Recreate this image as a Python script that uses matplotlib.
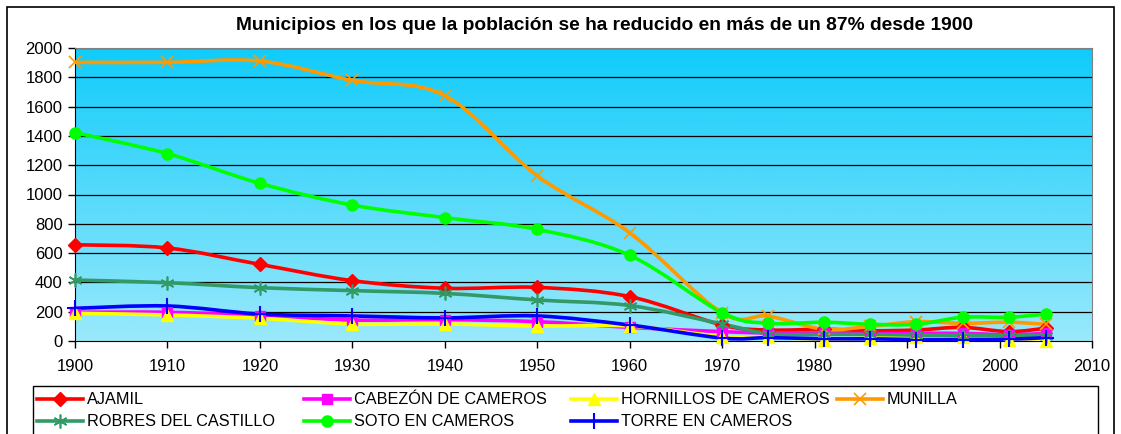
import matplotlib.pyplot as plt
import numpy as np
from matplotlib.path import Path
from matplotlib.patches import PathPatch, Rectangle
from matplotlib.lines import Line2D

plt.rcParams['font.family'] = ['Liberation Sans', 'DejaVu Sans']

years = [1900, 1910, 1920, 1930, 1940, 1950, 1960, 1970, 1975, 1981, 1986, 1991, 1996, 2001, 2005]

ajamil = [657, 635, 523, 412, 360, 366, 303, 109, 75, 80, 70, 75, 93, 64, 87]
cabezon = [196, 196, 173, 143, 146, 132, 93, 64, 55, 55, 50, 52, 52, 43, 52]
hornillos = [189, 178, 155, 116, 116, 102, 102, 30, 25, 10, 20, 30, 30, 10, 2]
munilla = [1902, 1902, 1911, 1779, 1675, 1128, 739, 190, 170, 80, 100, 132, 121, 128, 114]
robres = [416, 398, 364, 344, 325, 280, 242, 116, 50, 45, 45, 40, 37, 37, 37]
soto = [1422, 1279, 1076, 928, 842, 762, 585, 193, 121, 128, 114, 114, 162, 162, 184]
torre = [223, 239, 184, 171, 158, 171, 109, 20, 23, 15, 15, 10, 10, 12, 23]

names = ["AJAMIL", "CABEZÓN DE CAMEROS", "HORNILLOS DE CAMEROS", "MUNILLA",
         "ROBRES DEL CASTILLO", "SOTO EN CAMEROS", "TORRE EN CAMEROS"]
series = [ajamil, cabezon, hornillos, munilla, robres, soto, torre]

styles = [
    dict(color="#FF0000", marker="D", ms=7),
    dict(color="#FF00FF", marker="s", ms=7),
    dict(color="#FFFF00", marker="^", ms=8),
    dict(color="#FF9900", marker="x", ms=9, mew=1.2),
    dict(color="#339966", marker=(6, 2, 0), ms=10, mew=1.2),
    dict(color="#00FF00", marker="o", ms=8),
    dict(color="#0000FF", marker="+", ms=11, mew=1.5),
]


def smooth_path(x, y):
    # excel-like smoothed line: cubic bezier through each pair of points
    x = np.asarray(x, float)
    y = np.asarray(y, float)
    n = len(x)
    verts = [(x[0], y[0])]
    codes = [Path.MOVETO]
    for i in range(n - 1):
        i0 = max(i - 1, 0)
        i3 = min(i + 2, n - 1)
        c1 = (x[i] + (x[i + 1] - x[i0]) / 6, y[i] + (y[i + 1] - y[i0]) / 6)
        c2 = (x[i + 1] - (x[i3] - x[i]) / 6, y[i + 1] - (y[i3] - y[i]) / 6)
        verts += [c1, c2, (x[i + 1], y[i + 1])]
        codes += [Path.CURVE4] * 3
    return Path(verts, codes)


fig = plt.figure(figsize=(11.21, 4.34), dpi=100)
W, H = 1121, 434
ax = fig.add_axes([75 / W, 1 - 341 / H, (1092 - 75) / W, (341 - 48) / H])

# gradient background
grad = np.linspace(0, 1, 256).reshape(-1, 1)
top = np.array([0x10, 0xCC, 0xFB]) / 255
bot = np.array([0x9A, 0xE9, 0xFB]) / 255
img = top + (bot - top) * grad[..., None]
ax.imshow(img, extent=[1900, 2010, 0, 2000], origin="upper", aspect="auto", zorder=0)

ax.set_xlim(1900, 2010)
ax.set_ylim(0, 2000)
ax.set_xticks(np.arange(1900, 2011, 10))
ax.set_yticks(np.arange(0, 2001, 200))
for yv in np.arange(200, 2001, 200):
    ax.axhline(yv, color="black", lw=0.9, zorder=1)

for vals, st in zip(series, styles):
    ax.add_patch(PathPatch(smooth_path(years, vals), fill=False, edgecolor=st["color"],
                           lw=2.6, zorder=3, capstyle="round", joinstyle="round"))
for vals, st in zip(series, styles):
    ax.plot(years, vals, linestyle="none", marker=st["marker"], ms=st["ms"],
            color=st["color"], mec=st["color"], mew=st.get("mew", 1), zorder=4, clip_on=False)

for s in ["top", "right"]:
    ax.spines[s].set_color("#808080")
for s in ["left", "bottom"]:
    ax.spines[s].set_color("black")
ax.tick_params(direction="out", length=5, width=1, labelsize=12, pad=4)
ax.tick_params(axis="x", pad=8)

fig.text(604 / W, 1 - 25 / H, "Municipios en los que la población se ha reducido en más de un 87% desde 1900",
         ha="center", va="center", fontsize=13.8, fontweight="bold")

# legend laid out like excel: equal-width columns, filled row by row
fig.patches.append(Rectangle((33 / W, -0.05), (1098 - 33) / W, 0.05 + 1 - 386 / H,
                             transform=fig.transFigure, fill=False, edgecolor="black", lw=1.0))
col_x = [37, 304, 571, 837]
row_y = [399, 421]
for k, (name, st) in enumerate(zip(names, styles)):
    x0 = col_x[k % 4]
    yy = 1 - row_y[k // 4] / H
    fig.add_artist(Line2D([x0 / W, (x0 + 46) / W], [yy, yy], color=st["color"], lw=2.6,
                          transform=fig.transFigure))
    fig.add_artist(Line2D([(x0 + 23) / W], [yy], linestyle="none", marker=st["marker"],
                          ms=st["ms"], color=st["color"], mec=st["color"], mew=st.get("mew", 1),
                          transform=fig.transFigure))
    fig.text((x0 + 50) / W, yy, name, ha="left", va="center", fontsize=11.7)

# outer chart border
fig.patches.append(Rectangle((7 / W, -0.05), (1114 - 7) / W, 1.05 - 7 / H, transform=fig.transFigure,
                             fill=False, edgecolor="black", lw=1.2))

fig.savefig("out.png", dpi=100)
